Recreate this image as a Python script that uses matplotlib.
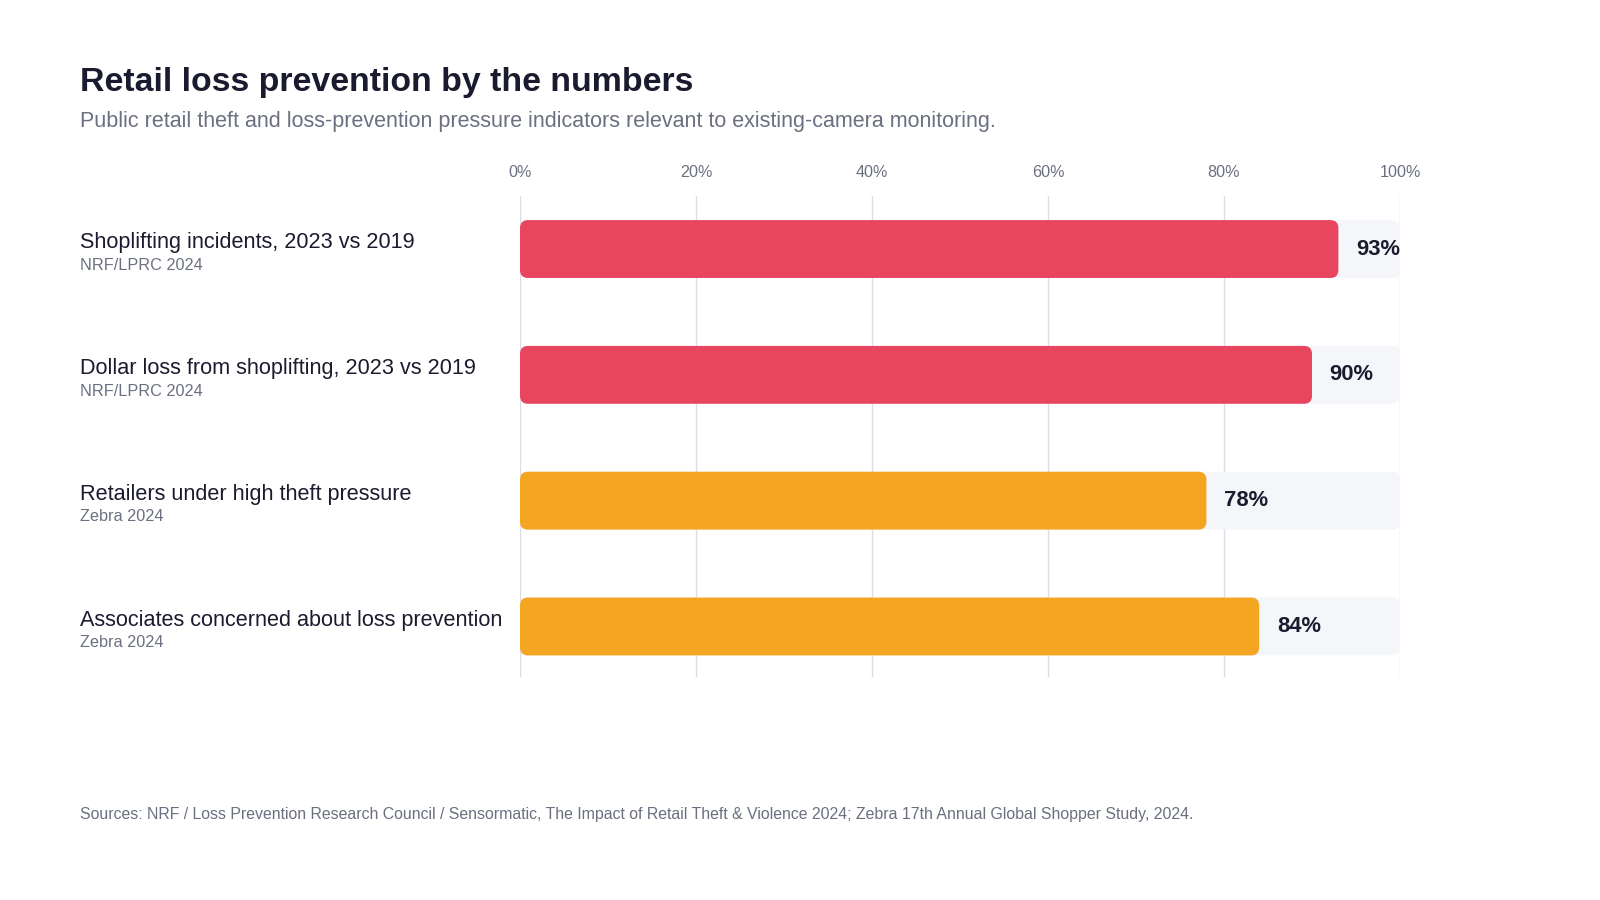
import matplotlib.pyplot as plt
from matplotlib.patches import FancyBboxPatch

# Dados do gráfico
categorias = [
    "Shoplifting incidents, 2023 vs 2019",
    "Dollar loss from shoplifting, 2023 vs 2019",
    "Retailers under high theft pressure",
    "Associates concerned about loss prevention",
]
fontes = ["NRF/LPRC 2024", "NRF/LPRC 2024", "Zebra 2024", "Zebra 2024"]
valores = [93, 90, 78, 84]
cores = ["#e8455f", "#e8455f", "#f4a623", "#f4a623"]
ticks = [0, 20, 40, 60, 80, 100]

titulo = "Retail loss prevention by the numbers"
subtitulo = ("Public retail theft and loss-prevention pressure indicators "
             "relevant to existing-camera monitoring.")
rodape = ("Sources: NRF / Loss Prevention Research Council / Sensormatic, The Impact of "
          "Retail Theft & Violence 2024; Zebra 17th Annual Global Shopper Study, 2024.")

plt.rcParams['font.family'] = ['Liberation Sans', 'DejaVu Sans']

escuro = "#1b1b2f"
cinza = "#6b7080"

fig = plt.figure(figsize=(16, 9), dpi=100)
ax = fig.add_axes([0.325, 0.248, 0.55, 0.534])
ax.set_xlim(0, 100)
ax.set_ylim(3.4, -0.42)

# proporção para cantos arredondados
px_x = 880 / 100
px_y = 481 / 3.82
aspecto = (1 / px_y) / (1 / px_x)
raio = 8 / px_x
altura = 0.46

for t in ticks:
    ax.axvline(t, color="#dddde8", lw=1, zorder=0)

for i, (v, c) in enumerate(zip(valores, cores)):
    fundo = FancyBboxPatch((0, i - altura / 2), 100, altura,
                           boxstyle=f"round,pad=0,rounding_size={raio}",
                           mutation_aspect=aspecto, fc="#f5f6fa", ec="none", zorder=1)
    ax.add_patch(fundo)
    barra = FancyBboxPatch((0, i - altura / 2), v, altura,
                           boxstyle=f"round,pad=0,rounding_size={raio}",
                           mutation_aspect=aspecto, fc=c, ec="none", zorder=2)
    ax.add_patch(barra)
    ax.text(v + 2, i, f"{v}%", va="center", ha="left", fontsize=15.8,
            fontweight="bold", color=escuro, zorder=3)

ax.set_xticks(ticks)
ax.set_xticklabels([f"{t}%" for t in ticks], fontsize=11.6, color=cinza)
ax.xaxis.tick_top()
ax.tick_params(axis="x", length=0, pad=12)
ax.set_yticks([])
for s in ax.spines.values():
    s.set_visible(False)

# rótulos das categorias
for i, (cat, fonte) in enumerate(zip(categorias, fontes)):
    y = 1 - (196 + (i + 0.42) * px_y) / 900
    fig.text(80 / 1600, y + 0.007, cat, fontsize=15.6, color=escuro, va="center")
    fig.text(80 / 1600, y - 0.018, fonte, fontsize=11.7, color=cinza, va="center")

fig.text(80 / 1600, 1 - 82 / 900, titulo, fontsize=24.4, fontweight="bold",
         color=escuro, va="center")
fig.text(80 / 1600, 1 - 121 / 900, subtitulo, fontsize=15.5, color=cinza, va="center")
fig.text(80 / 1600, 1 - 815 / 900, rodape, fontsize=11.45, color=cinza, va="center")

fig.savefig("out.png", dpi=100, facecolor="white")
